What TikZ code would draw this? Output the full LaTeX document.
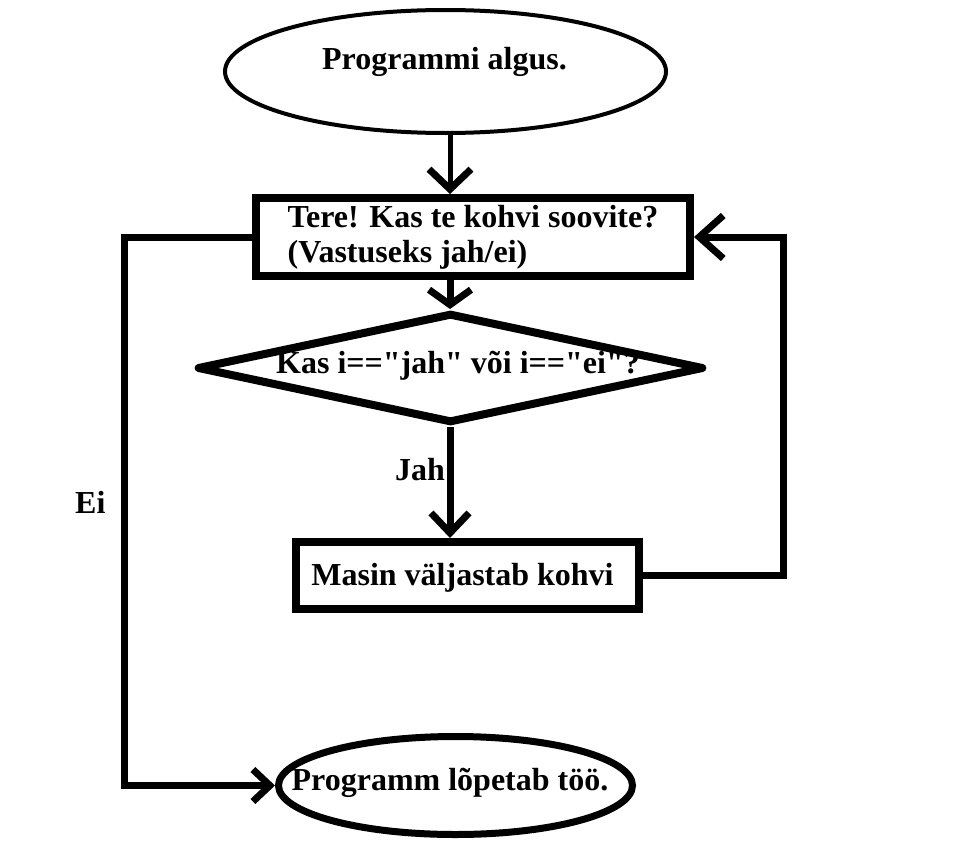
\documentclass[tikz,border=0pt]{standalone}
\usepackage{fontspec}
\setmainfont{Liberation Serif}
\usetikzlibrary{shapes.geometric,arrows.meta}
\begin{document}
\begin{tikzpicture}[x=1bp,y=-1bp,
  every node/.style={font=\fontsize{32bp}{35bp}\selectfont\bfseries, inner sep=0pt},
  terminal/.style={draw, ellipse},
  procbox/.style={draw, rectangle, line width=8bp},
  decision/.style={draw, diamond, line width=8bp, line join=round, aspect=4.5},
  conn/.style={line width=7bp},
  arr/.style={conn, -{Straight Barb[length=20bp, width=42bp]}},
  lbl/.style={anchor=base west}
]
\useasboundingbox (0,0) rectangle (959,856);
\coordinate (cx) at (450,0);
\coordinate (rx) at (783,0);
\coordinate (lx) at (124,0);

\node[terminal, line width=4bp, minimum width=441bp, minimum height=123bp] (start) at (445.5,71.5) {};
\node (starttext) at (444.5,62) {Programmi algus.};
\node[procbox, minimum width=434bp, minimum height=78bp, align=left] (box1) at (473,237) {Tere! Kas te kohvi soovite?\\(Vastuseks jah/ei)};
\node[decision, minimum width=507bp, minimum height=110bp] (dia) at (450.5,368) {};
\node (diatext) at (458,366) {Kas i==\textquotedbl jah\textquotedbl{} või i==\textquotedbl ei\textquotedbl?};
\node[procbox, minimum width=343bp, minimum height=67bp] (box2) at (467.5,575.5) {};
\node (box2text) at (462.5,578) {Masin väljastab kohvi};
\node[terminal, line width=7bp, minimum width=354bp, minimum height=98bp] (end) at (455.5,785.5) {};
\node (endtext) at (450,783) {Programm lõpetab töö.};

\node[lbl] (jah) at (395,480) {Jah};
\node[lbl] (ei) at (75,513) {Ei};

\draw[arr, line width=5bp, -{Straight Barb[length=20bp, width=42bp, line width=7bp]}] (start.south -| cx) -- (box1.north -| cx);
\draw[arr, -{Straight Barb[length=15bp, width=42bp]}] (box1.south -| cx) -- (dia.north -| cx);
\draw[arr, -{Straight Barb[length=20bp, width=38bp]}] (dia.south -| cx) -- (box2.north -| cx);
\draw[arr, -{Straight Barb[length=24bp, width=43bp]}] (box2.east) -- (box2.east -| rx) -- (box1.east -| rx) -- (box1.east);
\draw[arr, -{Straight Barb[length=17bp, width=32bp]}] (box1.west) -- (box1.west -| lx) -- (end.west -| lx) -- (end.west);
\end{tikzpicture}
\end{document}
